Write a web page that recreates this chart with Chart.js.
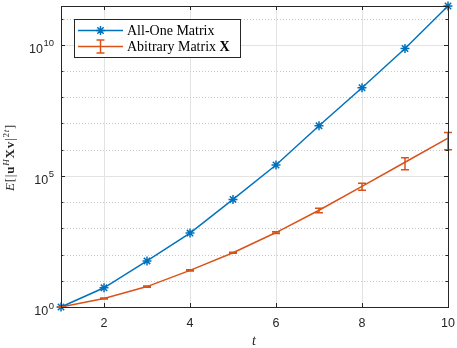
<!DOCTYPE html>
<html>
<head>
<meta charset="utf-8">
<script src="https://cdn.jsdelivr.net/npm/chart.js@4"></script>
<style>
  html, body { margin: 0; padding: 0; background: #fff; }
</style>
</head>
<body>
<canvas id="myChart" width="457" height="348"></canvas>
<script>
// values (log scale)
const tValues = [1, 2, 3, 4, 5, 6, 7, 8, 9, 10];
const allOneValues = [1, 5.4, 57, 660, 1.26e4, 2.6e5, 8.1e6, 2.3e8, 7.2e9, 3.0e11];
const arbitraryMean = [1, 2.1, 6.0, 25, 117, 690, 4900, 4.0e4, 3.3e5, 2.75e6];
const arbitraryErr = [0.03, 0.1, 0.3, 1.2, 6, 50, 950, 1.2e4, 1.6e5, 1.75e6];
const xTickValues = [2, 4, 6, 8, 10];
const yDecades = [0, 1, 2, 3, 4, 5, 6, 7, 8, 9, 10, 11];
const yLabelDecades = [0, 5, 10];

const BLUE = '#0072BD';
const ORANGE = '#D95319';
const AXIS = '#262626';
const SERIF = '"Liberation Serif", "DejaVu Serif", serif';
const SANS = '"Liberation Sans", Arial, sans-serif';

const ctx = document.getElementById('myChart');

const matlabPlugin = {
  id: 'matlabLook',
  beforeDatasetsDraw(chart) {
    const c = chart.ctx, a = chart.chartArea, ys = chart.scales.y;
    c.save();
    c.lineWidth = 1;
    yDecades.forEach(k => {
      const y = Math.round(ys.getPixelForValue(Math.pow(10, k))) + 0.5;
      if (y < a.top || y > a.bottom) return;
      if (k % 5 === 0) {
        c.setLineDash([]);
        c.strokeStyle = '#e3e3e3';
      } else {
        c.setLineDash([1, 2]);
        c.strokeStyle = '#c8c8c8';
      }
      c.beginPath();
      c.moveTo(a.left, y);
      c.lineTo(a.right, y);
      c.stroke();
    });
    c.restore();
  },
  afterDatasetsDraw(chart) {
    const c = chart.ctx, a = chart.chartArea, xs = chart.scales.x, ys = chart.scales.y;
    c.save();

    // error bars of the second series
    c.strokeStyle = ORANGE;
    c.lineWidth = 1.5;
    tValues.forEach((t, i) => {
      const x = xs.getPixelForValue(t);
      const yt = ys.getPixelForValue(arbitraryMean[i] + arbitraryErr[i]);
      const yb = ys.getPixelForValue(arbitraryMean[i] - arbitraryErr[i]);
      c.beginPath();
      c.moveTo(x, yt); c.lineTo(x, yb);
      c.moveTo(x - 4, yt); c.lineTo(x + 4, yt);
      c.moveTo(x - 4, yb); c.lineTo(x + 4, yb);
      c.stroke();
    });

    // axes box
    c.strokeStyle = AXIS;
    c.lineWidth = 1;
    c.strokeRect(Math.round(a.left) + 0.5, Math.round(a.top) + 0.5,
      Math.round(a.right - a.left), Math.round(a.bottom - a.top));

    // inward tick marks
    c.beginPath();
    xTickValues.forEach(v => {
      const x = Math.round(xs.getPixelForValue(v)) + 0.5;
      c.moveTo(x, a.bottom); c.lineTo(x, a.bottom - 4);
      c.moveTo(x, a.top); c.lineTo(x, a.top + 4);
    });
    yDecades.forEach(k => {
      const y = Math.round(ys.getPixelForValue(Math.pow(10, k))) + 0.5;
      if (y < a.top || y > a.bottom) return;
      const len = k % 5 === 0 ? 4 : 2.5;
      c.moveTo(a.left, y); c.lineTo(a.left + len, y);
      c.moveTo(a.right, y); c.lineTo(a.right - len, y);
    });
    c.stroke();

    // y tick labels 10^k
    c.fillStyle = AXIS;
    c.textBaseline = 'alphabetic';
    yLabelDecades.forEach(k => {
      const y = ys.getPixelForValue(Math.pow(10, k));
      const right = a.left - 7;
      c.font = '9.5px ' + SANS;
      const ew = c.measureText(String(k)).width;
      c.textAlign = 'left';
      c.fillText(String(k), right - ew, y + 1.5);
      c.font = '12.5px ' + SANS;
      const bw = c.measureText('10').width;
      c.fillText('10', right - ew - bw - 0.5, y + 8);
    });

    // x axis title
    c.font = 'italic 14px ' + SERIF;
    c.textAlign = 'center';
    c.fillText('t', 254, 345);

    // y axis title  E[|u^H X v|^{2t}]
    const pieces = [
      { s: 'E', f: 'italic 13px ' + SERIF, dy: 0 },
      { s: '[', f: '13px ' + SERIF, dy: 0 },
      { s: '|', f: '13px ' + SERIF, dy: 0 },
      { s: 'u', f: 'bold 13px ' + SERIF, dy: 0 },
      { s: 'H', f: 'italic 9px ' + SERIF, dy: -5.5 },
      { s: 'X', f: 'bold 13px ' + SERIF, dy: 0 },
      { s: 'v', f: 'bold 13px ' + SERIF, dy: 0 },
      { s: '|', f: '13px ' + SERIF, dy: 0 },
      { s: '2', f: '9px ' + SERIF, dy: -5.5 },
      { s: 't', f: 'italic 9px ' + SERIF, dy: -5.5 },
      { s: ']', f: '13px ' + SERIF, dy: 0 }
    ];
    let total = 0;
    pieces.forEach(p => { c.font = p.f; p.w = c.measureText(p.s).width; total += p.w + 0.8; });
    c.save();
    c.translate(14, 157.5);
    c.rotate(-Math.PI / 2);
    c.textAlign = 'left';
    let px = -total / 2;
    pieces.forEach(p => {
      c.font = p.f;
      c.fillText(p.s, px, p.dy);
      px += p.w + 0.8;
    });
    c.restore();

    // legend
    c.fillStyle = '#ffffff';
    c.fillRect(74.5, 19.5, 166, 38);
    c.strokeStyle = AXIS;
    c.lineWidth = 1;
    c.strokeRect(74.5, 19.5, 166, 38);

    c.lineWidth = 1.5;
    c.strokeStyle = BLUE;
    c.beginPath();
    c.moveTo(78, 30.5); c.lineTo(123, 30.5);
    c.stroke();
    Chart.helpers.drawPoint(c, { pointStyle: 'star', radius: 4.5, borderWidth: 1.5 }, 100.5, 30.5);

    c.strokeStyle = ORANGE;
    c.beginPath();
    c.moveTo(78, 46.5); c.lineTo(123, 46.5);
    c.moveTo(100.5, 40); c.lineTo(100.5, 53);
    c.moveTo(96.5, 40); c.lineTo(104.5, 40);
    c.moveTo(96.5, 53); c.lineTo(104.5, 53);
    c.stroke();

    c.fillStyle = '#000000';
    c.textAlign = 'left';
    c.font = '14px ' + SERIF;
    c.fillText('All-One Matrix', 127, 35);
    c.fillText('Abitrary Matrix ', 127, 51);
    const w = c.measureText('Abitrary Matrix ').width;
    c.font = 'bold 14px ' + SERIF;
    c.fillText('X', 127 + w, 51);

    c.restore();
  }
};

new Chart(ctx, {
  type: 'line',
  data: {
    datasets: [{
      label: 'All-One Matrix',
      data: tValues.map((t, i) => ({ x: t, y: allOneValues[i] })),
      borderColor: BLUE,
      backgroundColor: BLUE,
      borderWidth: 1.5,
      pointStyle: 'star',
      pointRadius: 4.5,
      pointBorderWidth: 1.5,
      pointBorderColor: BLUE,
      tension: 0,
      clip: false
    }, {
      label: 'Abitrary Matrix X',
      data: tValues.map((t, i) => ({ x: t, y: arbitraryMean[i] })),
      borderColor: ORANGE,
      backgroundColor: ORANGE,
      borderWidth: 1.5,
      pointRadius: 0,
      tension: 0,
      clip: false
    }]
  },
  options: {
    responsive: false,
    animation: false,
    devicePixelRatio: 1,
    layout: { padding: { left: 53, right: 9, top: 5, bottom: 8 } },
    plugins: {
      legend: { display: false },
      tooltip: { enabled: false }
    },
    scales: {
      x: {
        type: 'linear',
        min: 1,
        max: 10,
        afterBuildTicks: s => { s.ticks = xTickValues.map(v => ({ value: v })); },
        afterFit: s => { s.paddingRight = 0; s.paddingLeft = 0; },
        ticks: { color: AXIS, font: { family: SANS, size: 12.5 }, padding: 9, maxRotation: 0 },
        grid: { color: '#e3e3e3', drawTicks: false, lineWidth: 1 },
        border: { display: false }
      },
      y: {
        type: 'logarithmic',
        min: 1,
        max: allOneValues[allOneValues.length - 1],
        afterBuildTicks: s => { s.ticks = yDecades.map(k => ({ value: Math.pow(10, k) })); },
        ticks: { display: false },
        grid: { display: false },
        border: { display: false }
      }
    }
  },
  plugins: [matlabPlugin]
});
</script>
</body>
</html>
